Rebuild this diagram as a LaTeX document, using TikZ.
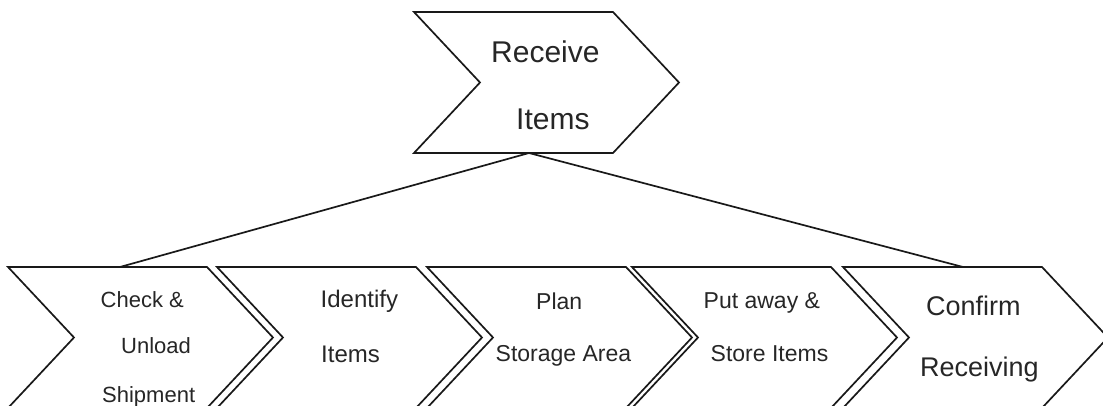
\documentclass[tikz,border=0pt]{standalone}
\usepackage{fontspec}
\setmainfont{Liberation Sans}
\begin{document}
\begin{tikzpicture}[x=1pt,y=-1pt,
  chevline/.style={line width=1.7pt, line join=miter, draw=black!90},
  link/.style={line width=1.7pt, draw=black!90},
  lbl/.style={anchor=base west, inner sep=0pt, text=black!85},
  chevron/.pic={\draw[chevline] (0,0) -- (199,0) -- (265,70.5) -- (199,141) -- (0,141) -- (66,70.5) -- cycle;}]
\useasboundingbox (0,0) rectangle (1103,406);
\clip (0,0) rectangle (1103,406);

% top-level step
\pic at (414,12) {chevron};
% sub-steps
\pic at (8,267) {chevron};
\pic at (217,267) {chevron};
\pic at (427,267) {chevron};
\pic at (632,267) {chevron};
\pic at (843,267) {chevron};

% labels
\node[lbl, font=\fontsize{30}{30}\selectfont] (t1) at (491,63) {Receive};
\node[lbl, font=\fontsize{30}{30}\selectfont] (t2) at (516,130) {Items};

\node[lbl, font=\fontsize{22}{22}\selectfont] (a1) at (100.5,307) {Check \&};
\node[lbl, font=\fontsize{22}{22}\selectfont] (a2) at (121,353) {Unload};
\node[lbl, font=\fontsize{22}{22}\selectfont] (a3) at (102,402) {Shipment};

\node[lbl, font=\fontsize{24}{24}\selectfont] (b1) at (320.5,307) {Identify};
\node[lbl, font=\fontsize{24}{24}\selectfont] (b2) at (321,362) {Items};

\node[lbl, font=\fontsize{23}{23}\selectfont] (c1) at (536,309) {Plan};
\node[lbl, font=\fontsize{23}{23}\selectfont] (c2) at (495.5,361) {Storage Area};

\node[lbl, font=\fontsize{23}{23}\selectfont] (d1) at (703.5,308) {Put away \&};
\node[lbl, font=\fontsize{23}{23}\selectfont] (d2) at (710.5,361) {Store Items};

\node[lbl, font=\fontsize{27}{27}\selectfont] (e1) at (926,315) {Confirm};
\node[lbl, font=\fontsize{27}{27}\selectfont] (e2) at (920,376) {Receiving};

% tree connectors
\coordinate (top) at (529,153);
\coordinate (left) at (120,267);
\coordinate (right) at (963,267);
\draw[link] (top) -- (left);
\draw[link] (top) -- (right);
\end{tikzpicture}
\end{document}
